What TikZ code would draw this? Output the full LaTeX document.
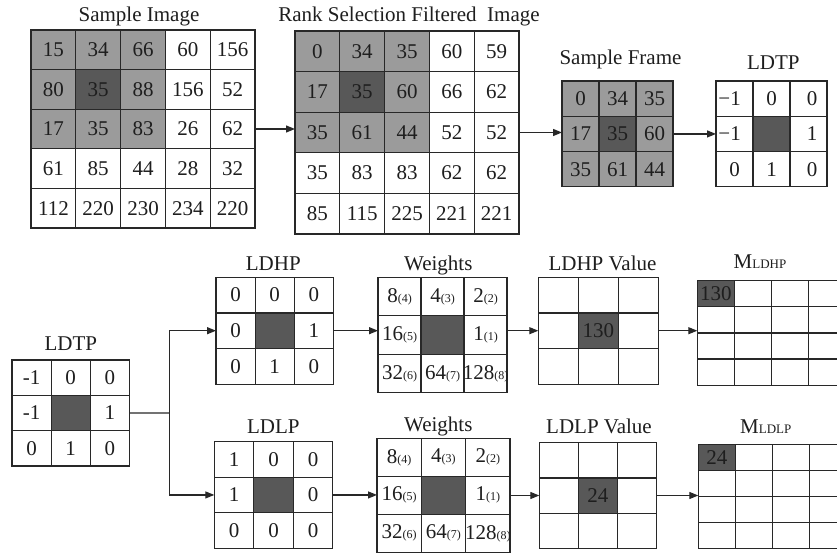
\documentclass[tikz,border=0pt]{standalone}
\usepackage{fontspec}
\setmainfont{Liberation Serif}
\usetikzlibrary{arrows.meta}
\definecolor{lightg}{RGB}{155,155,155}
\definecolor{darkg}{RGB}{88,88,88}
\definecolor{linec}{RGB}{40,40,40}
\definecolor{txtc}{RGB}{30,30,30}
\newcommand\sw[1]{{\fontsize{12}{12}\selectfont(#1)}}
\newcommand\cellrows[2]{\foreach \r [count=\j] in {#2} {\foreach \v [count=\i] in \r {\node[num] (#1-\i-\j) at (\i-0.5,\j-0.5) {\v};}}}
\newcommand\gridlines[5]{%
  \node[gb, anchor=north west, minimum width=#4pt, minimum height=#5pt] (#1) at (0,0) {};
  \pgfmathtruncatemacro\ncm{#2-1}\pgfmathtruncatemacro\nrm{#3-1}%
  \foreach \k in {1,...,\ncm} {\draw[gl] (\k,0) -- (\k,#3);}
  \foreach \k in {1,...,\nrm} {\draw[gl] (0,\k) -- (#2,\k);}
}
\tikzset{
  gb/.style={draw=linec, line width=1.2pt, rectangle, outer sep=0pt, inner sep=0pt},
  gl/.style={draw=linec, line width=1.2pt},
  num/.style={font=\fontsize{21}{21}\selectfont, text=txtc, inner sep=0pt},
  ttl/.style={font=\fontsize{21}{21}\selectfont, text=txtc, inner sep=0pt, anchor=base},
  cells/.style n args={4}{shift={(#1,#2)}, x=#3pt, y=-#4pt},
  arr/.style={draw=linec, line width=1.2pt, -{Triangle[length=9pt,width=7pt]}}
}
\begin{document}
\begin{tikzpicture}[x=1pt,y=-1pt]
\useasboundingbox (0,0) rectangle (837,553);
\fill[white] (0,0) rectangle (837,553);
\clip (0,0) rectangle (837,553);

% Titles
\node[ttl] (t-si) at (139,21.7) {Sample Image};
\node[ttl] (t-rs) at (409,21.7) {Rank Selection Filtered\ \ Image};
\node[ttl] (t-fr) at (620.5,65) {Sample Frame};
\node[ttl] (t-lt) at (773.3,70) {LDTP};
\node[ttl] (t-lb) at (70.8,350) {LDTP};
\node[ttl] (t-lh) at (273.3,270) {LDHP};
\node[ttl] (t-w1) at (438.3,270) {Weights};
\node[ttl] (t-hv) at (602.5,270) {LDHP Value};
\node[ttl] (t-mh) at (760,268) {M{\fontsize{13}{13}\selectfont LDHP}};
\node[ttl] (t-ll) at (273.3,433.3) {LDLP};
\node[ttl] (t-w2) at (438.3,431) {Weights};
\node[ttl] (t-lv) at (599,433.3) {LDLP Value};
\node[ttl] (t-ml) at (765.8,433) {M{\fontsize{13}{13}\selectfont LDLP}};

% Sample Image
\begin{scope}[cells={31}{30}{44.8}{39.6}]
  \fill[lightg] (0,0) rectangle (3,3);
  \fill[darkg] (1,1) rectangle (2,2);
  \gridlines{si}{5}{5}{224}{198}
  \cellrows{si}{{15,34,66,60,156},{80,35,88,156,52},{17,35,83,26,62},{61,85,44,28,32},{112,220,230,234,220}}
\end{scope}

% Rank selection filtered image
\begin{scope}[cells={295}{31}{44.8}{40.6}]
  \fill[lightg] (0,0) rectangle (3,3);
  \fill[darkg] (1,1) rectangle (2,2);
  \gridlines{rs}{5}{5}{224}{203}
  \cellrows{rs}{{0,34,35,60,59},{17,35,60,66,62},{35,61,44,52,52},{35,83,83,62,62},{85,115,225,221,221}}
\end{scope}

% Sample frame
\begin{scope}[cells={562}{81}{37}{35.3}]
  \fill[lightg] (0,0) rectangle (3,3);
  \fill[darkg] (1,1) rectangle (2,2);
  \gridlines{fr}{3}{3}{111}{105.9}
  \cellrows{fr}{{0,34,35},{17,35,60},{35,61,44}}
\end{scope}

% LDTP top
\begin{scope}[cells={716}{81}{37}{35.3}]
  \fill[darkg] (1,1) rectangle (2,2);
  \gridlines{lt}{3}{3}{111}{105.9}
  \node[num, anchor=west] (lt-1-1) at (0.06,0.5) {−1};
  \node[num] (lt-2-1) at (1.5,0.5) {0};
  \node[num] (lt-3-1) at (2.6,0.5) {0};
  \node[num, anchor=west] (lt-1-2) at (0.06,1.5) {−1};
  \node[num] (lt-3-2) at (2.6,1.5) {1};
  \node[num] (lt-1-3) at (0.5,2.5) {0};
  \node[num] (lt-2-3) at (1.5,2.5) {1};
  \node[num] (lt-3-3) at (2.6,2.5) {0};
\end{scope}

% LDTP bottom
\begin{scope}[cells={12}{360}{39.1}{35.3}]
  \fill[darkg] (1,1) rectangle (2,2);
  \gridlines{lb}{3}{3}{117.3}{105.9}
  \cellrows{lb}{{-1,0,0},{-1,{},1},{0,1,0}}
\end{scope}

% LDHP
\begin{scope}[cells={216}{277.3}{39.1}{35.6}]
  \fill[darkg] (1,1) rectangle (2,2);
  \gridlines{lh}{3}{3}{117.3}{106.8}
  \cellrows{lh}{{0,0,0},{0,{},1},{0,1,0}}
\end{scope}

% Weights 1
\begin{scope}[cells={378}{277.3}{43}{38.5}]
  \fill[darkg] (1,1) rectangle (2,2);
  \gridlines{w1}{3}{3}{129}{115.5}
  \cellrows{w1}{{8\sw{4},4\sw{3},2\sw{2}},{16\sw{5},{},1\sw{1}},{32\sw{6},64\sw{7},128\sw{8}}}
\end{scope}

% LDHP value
\begin{scope}[cells={538.3}{277.3}{40}{35.6}]
  \fill[darkg] (1,1) rectangle (2,2);
  \gridlines{hv}{3}{3}{120}{106.8}
  \node[num] (hv-2-2) at (1.5,1.5) {130};
\end{scope}

% M LDHP
\begin{scope}[cells={697.3}{280.7}{37}{26.1}]
  \fill[darkg] (0,0) rectangle (1,1);
  \gridlines{mh}{5}{4}{185}{104.4}
  \node[num] (mh-1-1) at (0.5,0.5) {130};
\end{scope}

% LDLP
\begin{scope}[cells={214.3}{441.7}{39.5}{35.5}]
  \fill[darkg] (1,1) rectangle (2,2);
  \gridlines{ll}{3}{3}{118.5}{106.5}
  \cellrows{ll}{{1,0,0},{1,{},0},{0,0,0}}
\end{scope}

% Weights 2
\begin{scope}[cells={377}{438.3}{44.3}{38}]
  \fill[darkg] (1,1) rectangle (2,2);
  \gridlines{w2}{3}{3}{132.9}{114}
  \cellrows{w2}{{8\sw{4},4\sw{3},2\sw{2}},{16\sw{5},{},1\sw{1}},{32\sw{6},64\sw{7},128\sw{8}}}
\end{scope}

% LDLP value
\begin{scope}[cells={539.3}{442.7}{39.1}{35.2}]
  \fill[darkg] (1,1) rectangle (2,2);
  \gridlines{lv}{3}{3}{117.3}{105.6}
  \node[num] (lv-2-2) at (1.5,1.5) {24};
\end{scope}

% M LDLP
\begin{scope}[cells={698.3}{444.3}{37}{26}]
  \fill[darkg] (0,0) rectangle (1,1);
  \gridlines{ml}{5}{4}{185}{104}
  \node[num] (ml-1-1) at (0.5,0.5) {24};
\end{scope}

% Connectors
\draw[arr] (si.east) -- (si.east -| rs.west);
\draw[arr] (rs.east) -- (rs.east -| fr.west);
\draw[arr] (fr.east) -- (fr.east -| lt.west);
\coordinate (split) at (169.3,413);
\draw[gl] (lb.east) -- (split);
\draw[arr] (split) |- (lh.west);
\draw[arr] (split) |- (ll.west);
\draw[arr] (lh.east) -- (lh.east -| w1.west);
\draw[arr] (w1.east |- hv.west) -- (hv.west);
\draw[arr] (hv.east) -- (hv.east -| mh.west);
\draw[arr] (ll.east) -- (ll.east -| w2.west);
\draw[arr] (w2.east |- lv.west) -- (lv.west);
\draw[arr] (lv.east) -- (lv.east -| ml.west);
\end{tikzpicture}
\end{document}
